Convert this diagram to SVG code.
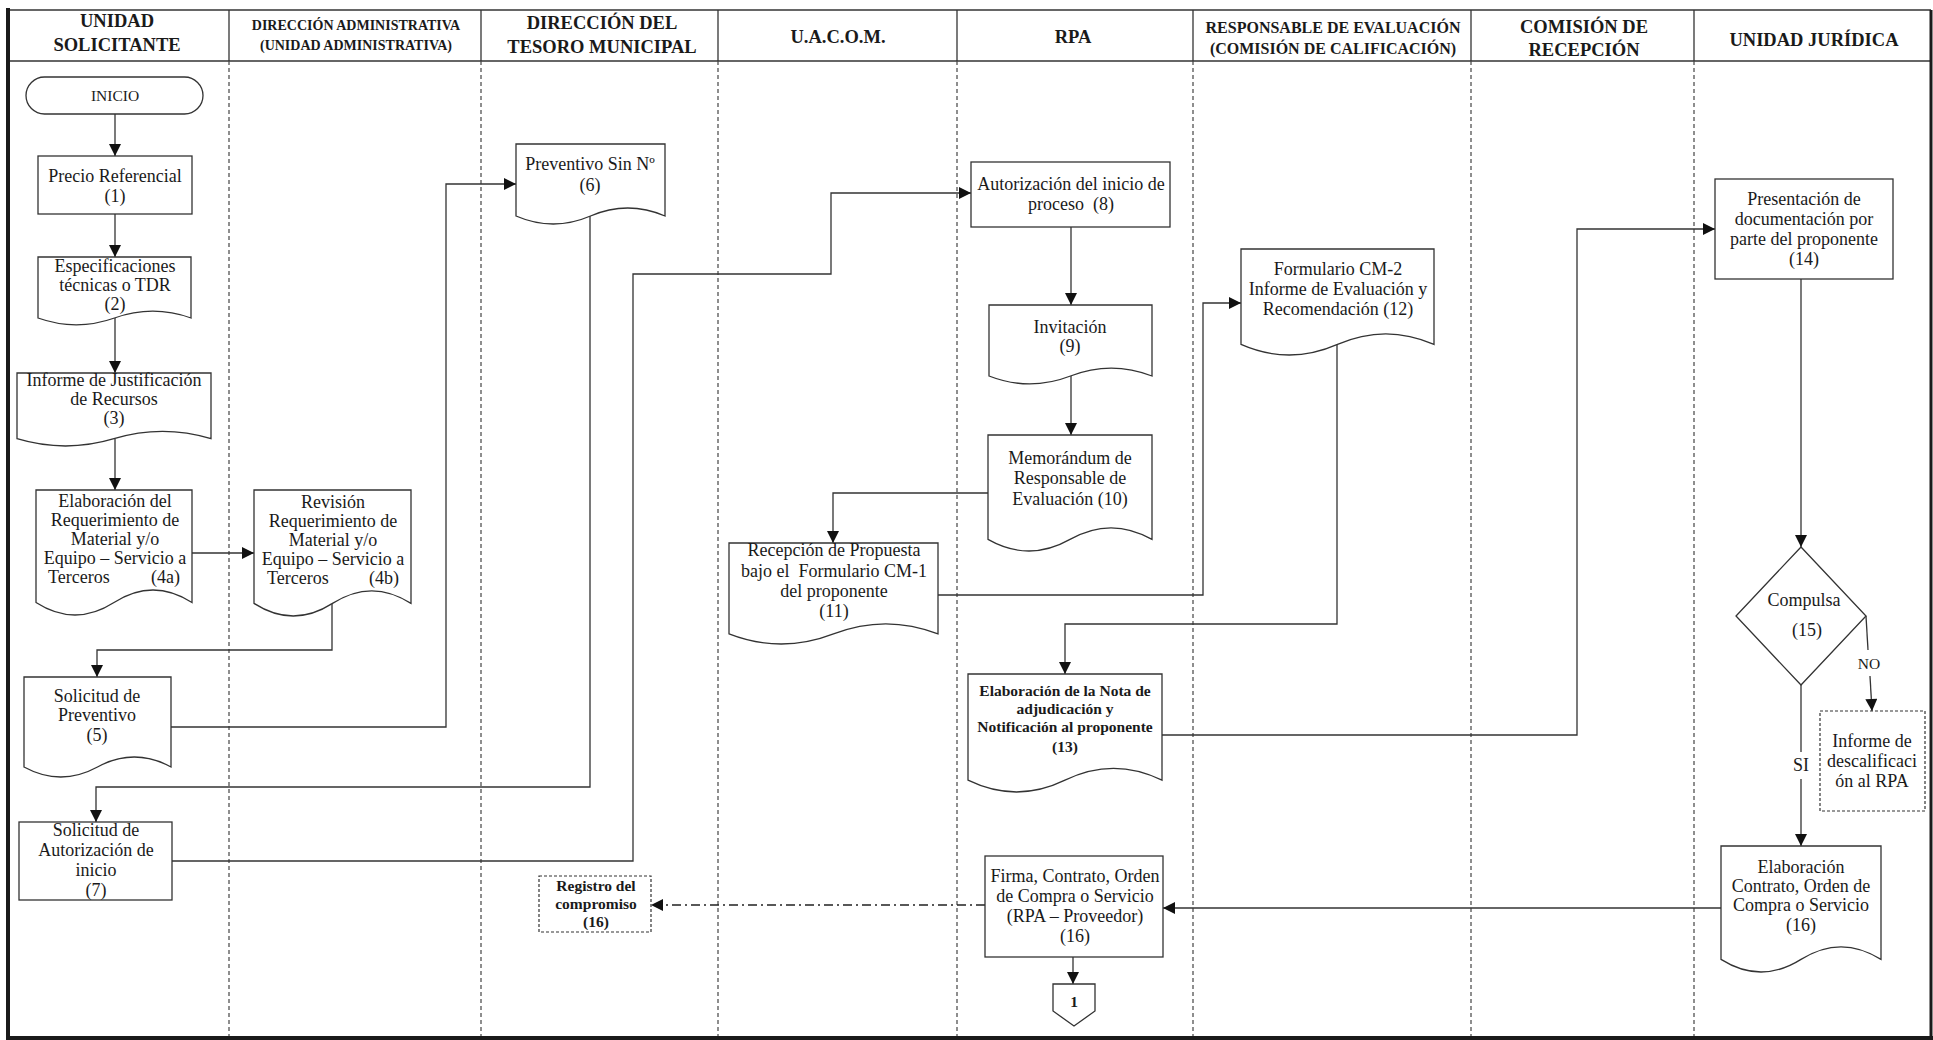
<svg xmlns="http://www.w3.org/2000/svg" width="1933" height="1040" viewBox="0 0 1933 1040">
<defs>
<style>
.bg{fill:#fff}
.frame{fill:none;stroke:#1a1a1a}
.lane{stroke:#444;stroke-width:1.2;stroke-dasharray:4 3;fill:none}
.hline{stroke:#333;stroke-width:1.3;fill:none}
.box{fill:#fff;stroke:#333;stroke-width:1.3}
.dbox{fill:#fff;stroke:#333;stroke-width:1.2;stroke-dasharray:3 2}
.conn{fill:none;stroke:#333;stroke-width:1.3}
.dd{fill:none;stroke:#222;stroke-width:1.5;stroke-dasharray:9 4 2 4}
.hd{font-family:"Liberation Serif",serif;font-weight:bold;font-size:18.5px;fill:#1a1a1a;text-anchor:middle}
.hs{font-family:"Liberation Serif",serif;font-weight:bold;font-size:14px;fill:#1a1a1a;text-anchor:middle}
.hm{font-family:"Liberation Serif",serif;font-weight:bold;font-size:16px;fill:#1a1a1a;text-anchor:middle}
.t{font-family:"Liberation Serif",serif;font-size:18px;fill:#1a1a1a;text-anchor:middle}
.tl{font-family:"Liberation Serif",serif;font-size:18px;fill:#1a1a1a;text-anchor:start}
.tr{font-family:"Liberation Serif",serif;font-size:18px;fill:#1a1a1a;text-anchor:end}
.tb{font-family:"Liberation Serif",serif;font-weight:bold;font-size:15.5px;fill:#1a1a1a;text-anchor:middle}
.ts{font-family:"Liberation Serif",serif;font-size:15.5px;fill:#1a1a1a;text-anchor:middle}
</style>
<marker id="ah" viewBox="0 0 12 12" refX="12" refY="6" markerWidth="13" markerHeight="12" markerUnits="userSpaceOnUse" orient="auto">
<path d="M0,0 L12,6 L0,12 Z" fill="#111"/>
</marker>
</defs>
<rect class="bg" x="0" y="0" width="1933" height="1040"/>

<g id="lanes">
<line class="hline" x1="8" y1="10" x2="1931" y2="10"/>
<line class="hline" x1="8" y1="61" x2="1931" y2="61"/>
<line class="frame" x1="8" y1="8" x2="8" y2="1038" stroke-width="4"/>
<line class="frame" x1="1931" y1="10" x2="1931" y2="1038" stroke-width="3"/>
<line class="frame" x1="6" y1="1038" x2="1933" y2="1038" stroke-width="4"/>
<g class="hline">
<line x1="229" y1="10" x2="229" y2="61"/><line x1="481" y1="10" x2="481" y2="61"/>
<line x1="718" y1="10" x2="718" y2="61"/><line x1="957" y1="10" x2="957" y2="61"/>
<line x1="1193" y1="10" x2="1193" y2="61"/><line x1="1471" y1="10" x2="1471" y2="61"/>
<line x1="1694" y1="10" x2="1694" y2="61"/>
</g>
<g class="lane">
<line x1="229" y1="61" x2="229" y2="1036"/><line x1="481" y1="61" x2="481" y2="1036"/>
<line x1="718" y1="61" x2="718" y2="1036"/><line x1="957" y1="61" x2="957" y2="1036"/>
<line x1="1193" y1="61" x2="1193" y2="1036"/><line x1="1471" y1="61" x2="1471" y2="1036"/>
<line x1="1694" y1="61" x2="1694" y2="1036"/>
</g>
<text class="hd" x="117" y="27">UNIDAD</text>
<text class="hd" x="117" y="51">SOLICITANTE</text>
<text class="hs" x="356" y="30">DIRECCIÓN ADMINISTRATIVA</text>
<text class="hs" x="356" y="50">(UNIDAD ADMINISTRATIVA)</text>
<text class="hd" x="602" y="29">DIRECCIÓN DEL</text>
<text class="hd" x="602" y="53">TESORO MUNICIPAL</text>
<text class="hd" x="838" y="43">U.A.C.O.M.</text>
<text class="hd" x="1073" y="43">RPA</text>
<text class="hm" x="1333" y="33">RESPONSABLE DE EVALUACIÓN</text>
<text class="hm" x="1333" y="54">(COMISIÓN DE CALIFICACIÓN)</text>
<text class="hd" x="1584" y="33">COMISIÓN DE</text>
<text class="hd" x="1584" y="56">RECEPCIÓN</text>
<text class="hd" x="1814" y="46">UNIDAD JURÍDICA</text>
</g>

<g id="connectors">
<path class="conn" d="M115,114 V156" marker-end="url(#ah)"/>
<path class="conn" d="M115,214 V257" marker-end="url(#ah)"/>
<path class="conn" d="M115,318 V373" marker-end="url(#ah)"/>
<path class="conn" d="M115,439 V490" marker-end="url(#ah)"/>
<path class="conn" d="M192,553 H254" marker-end="url(#ah)"/>
<path class="conn" d="M332,604 V650 H97 V677" marker-end="url(#ah)"/>
<path class="conn" d="M171,727 H446 V184 H516" marker-end="url(#ah)"/>
<path class="conn" d="M590,216 V787 H96 V822" marker-end="url(#ah)"/>
<path class="conn" d="M172,861 H633 V274 H831 V193 H971" marker-end="url(#ah)"/>
<path class="conn" d="M1071,227 V305" marker-end="url(#ah)"/>
<path class="conn" d="M1071,376 V435" marker-end="url(#ah)"/>
<path class="conn" d="M988,493 H833 V543" marker-end="url(#ah)"/>
<path class="conn" d="M938,595 H1203 V303 H1241" marker-end="url(#ah)"/>
<path class="conn" d="M1337,344 V624 H1065 V674" marker-end="url(#ah)"/>
<path class="conn" d="M1162,735 H1577 V229 H1715" marker-end="url(#ah)"/>
<path class="conn" d="M1801,279 V547" marker-end="url(#ah)"/>
<path class="conn" d="M1866,616 L1868,650"/>
<path class="conn" d="M1870,676 L1872,711" marker-end="url(#ah)"/>
<path class="conn" d="M1801,685 V752"/>
<path class="conn" d="M1801,779 V846" marker-end="url(#ah)"/>
<path class="conn" d="M1721,908 H1163" marker-end="url(#ah)"/>
<path class="dd" d="M985,905 H651" marker-end="url(#ah)"/>
<path class="conn" d="M1073,957 V984" marker-end="url(#ah)"/>
<text class="ts" x="1869" y="669">NO</text>
<text class="t" x="1801" y="771" font-size="16">SI</text>
</g>

<g id="n-inicio">
<rect class="box" x="26" y="77" width="177" height="37" rx="18.5"/>
<text class="ts" x="115" y="101">INICIO</text>
</g>
<g id="n1">
<rect class="box" x="38" y="156" width="154" height="58"/>
<text class="t" x="115" y="182">Precio Referencial</text>
<text class="t" x="115" y="202">(1)</text>
</g>
<g id="n2">
<path class="box" d="M38,257 H191 V318 Q152.75,304.4 114.5,318 T38,318 Z"/>
<text class="t" x="115" y="272">Especificaciones</text>
<text class="t" x="115" y="291">técnicas o TDR</text>
<text class="t" x="115" y="310">(2)</text>
</g>
<g id="n3">
<path class="box" d="M17,373 H211 V438.7 Q162.5,424.1 114,438.7 T17,438.7 Z"/>
<text class="t" x="114" y="386">Informe de Justificación</text>
<text class="t" x="114" y="405">de Recursos</text>
<text class="t" x="114" y="424">(3)</text>
</g>
<g id="n4a">
<path class="box" d="M36,490 H192 V602.5 Q153,577.5 114,602.5 T36,602.5 Z"/>
<text class="t" x="115" y="507">Elaboración del</text>
<text class="t" x="115" y="526">Requerimiento de</text>
<text class="t" x="115" y="545">Material y/o</text>
<text class="t" x="115" y="564">Equipo – Servicio a</text>
<text class="tl" x="48" y="583">Terceros</text>
<text class="tr" x="180" y="583">(4a)</text>
</g>
<g id="n4b">
<path class="box" d="M254,490 H411 V603.4 Q371.75,578.2 332.5,603.4 T254,603.4 Z"/>
<text class="t" x="333" y="508">Revisión</text>
<text class="t" x="333" y="527">Requerimiento de</text>
<text class="t" x="333" y="546">Material y/o</text>
<text class="t" x="333" y="565">Equipo – Servicio a</text>
<text class="tl" x="267" y="584">Terceros</text>
<text class="tr" x="399" y="584">(4b)</text>
</g>
<g id="n5">
<path class="box" d="M24,677 H171 V767 Q134.25,747 97.5,767 T24,767 Z"/>
<text class="t" x="97" y="702">Solicitud de</text>
<text class="t" x="97" y="721">Preventivo</text>
<text class="t" x="97" y="741">(5)</text>
</g>
<g id="n6">
<path class="box" d="M516,144 H665 V216 Q627.75,200 590.5,216 T516,216 Z"/>
<text class="t" x="590" y="170">Preventivo Sin Nº</text>
<text class="t" x="590" y="191">(6)</text>
</g>
<g id="n7">
<rect class="box" x="19" y="822" width="153" height="78"/>
<text class="t" x="96" y="836">Solicitud de</text>
<text class="t" x="96" y="856">Autorización de</text>
<text class="t" x="96" y="876">inicio</text>
<text class="t" x="96" y="896">(7)</text>
</g>
<g id="n8">
<rect class="box" x="971" y="162" width="199" height="65"/>
<text class="t" x="1071" y="190">Autorización del inicio de</text>
<text class="t" x="1071" y="210">proceso &#160;(8)</text>
</g>
<g id="n9">
<path class="box" d="M989,305 H1152 V376 Q1111.25,360.2 1070.5,376 T989,376 Z"/>
<text class="t" x="1070" y="333">Invitación</text>
<text class="t" x="1070" y="352">(9)</text>
</g>
<g id="n10">
<path class="box" d="M988,435 H1152 V539.4 Q1111,516.2 1070,539.4 T988,539.4 Z"/>
<text class="t" x="1070" y="464">Memorándum de</text>
<text class="t" x="1070" y="484">Responsable de</text>
<text class="t" x="1070" y="505">Evaluación (10)</text>
</g>
<g id="n11">
<path class="box" d="M729,543 H938 V633.9 Q885.75,613.7 833.5,633.9 T729,633.9 Z"/>
<text class="t" x="834" y="556">Recepción de Propuesta</text>
<text class="t" x="834" y="577">bajo el &#160;Formulario CM-1</text>
<text class="t" x="834" y="597">del proponente</text>
<text class="t" x="834" y="617">(11)</text>
</g>
<g id="n12">
<path class="box" d="M1241,249 H1434 V344.4 Q1385.75,323.2 1337.5,344.4 T1241,344.4 Z"/>
<text class="t" x="1338" y="275">Formulario CM-2</text>
<text class="t" x="1338" y="295">Informe de Evaluación y</text>
<text class="t" x="1338" y="315">Recomendación (12)</text>
</g>
<g id="n13">
<path class="box" d="M968,674 H1162 V780.2 Q1113.5,756.6 1065,780.2 T968,780.2 Z"/>
<text class="tb" x="1065" y="696">Elaboración de la Nota de</text>
<text class="tb" x="1065" y="714">adjudicación y</text>
<text class="tb" x="1065" y="732">Notificación al proponente</text>
<text class="tb" x="1065" y="752">(13)</text>
</g>
<g id="n14">
<rect class="box" x="1715" y="179" width="178" height="100"/>
<text class="t" x="1804" y="205">Presentación de</text>
<text class="t" x="1804" y="225">documentación por</text>
<text class="t" x="1804" y="245">parte del proponente</text>
<text class="t" x="1804" y="265">(14)</text>
</g>
<g id="n15">
<path class="box" d="M1801,547 L1866,616 L1801,685 L1736,616 Z"/>
<text class="t" x="1804" y="606">Compulsa</text>
<text class="t" x="1807" y="636">(15)</text>
</g>
<g id="n-descalificacion">
<rect class="dbox" x="1820" y="711" width="105" height="100"/>
<text class="t" x="1872" y="747">Informe de</text>
<text class="t" x="1872" y="767">descalificaci</text>
<text class="t" x="1872" y="787">ón al RPA</text>
</g>
<g id="n16-elaboracion">
<path class="box" d="M1721,846 H1881 V959.4 Q1841,934.2 1801,959.4 T1721,959.4 Z"/>
<text class="t" x="1801" y="873">Elaboración</text>
<text class="t" x="1801" y="892">Contrato, Orden de</text>
<text class="t" x="1801" y="911">Compra o Servicio</text>
<text class="t" x="1801" y="931">(16)</text>
</g>
<g id="n16-firma">
<rect class="box" x="985" y="856" width="178" height="101"/>
<text class="t" x="1075" y="882">Firma, Contrato, Orden</text>
<text class="t" x="1075" y="902">de Compra o Servicio</text>
<text class="t" x="1075" y="922">(RPA – Proveedor)</text>
<text class="t" x="1075" y="942">(16)</text>
</g>
<g id="n16-registro">
<rect class="dbox" x="539" y="876" width="112" height="56"/>
<text class="tb" x="596" y="891">Registro del</text>
<text class="tb" x="596" y="909">compromiso</text>
<text class="tb" x="596" y="927">(16)</text>
</g>
<g id="n-conector1">
<path class="box" d="M1053,984 H1095 V1011 L1074,1026 L1053,1011 Z"/>
<text class="tb" x="1074" y="1007" font-size="17">1</text>
</g>
</svg>
